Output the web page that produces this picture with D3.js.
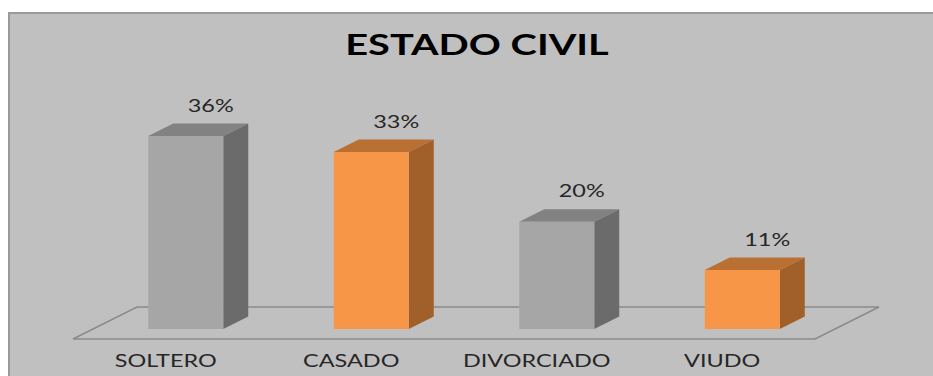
<!DOCTYPE html>
<html>
<head>
<meta charset="utf-8">
<script src="https://cdn.jsdelivr.net/npm/d3@7"></script>
<style>
  html, body { margin: 0; padding: 0; background: #ffffff; }
  svg { display: block; }
</style>
</head>
<body>
<svg id="chart" width="933" height="376"></svg>
<script>
// ---- data ----
const title = "ESTADO CIVIL";
const categories = ["SOLTERO", "CASADO", "DIVORCIADO", "VIUDO"];
const values = [36, 33, 20, 11];
const valueLabels = ["36%", "33%", "20%", "11%"];
const seriesColors = ["gray", "orange", "gray", "orange"];

// ---- styles ----
const palette = {
  gray:   { front: "#a6a6a6", side: "#6b6b6b", top: "#828282" },
  orange: { front: "#f79646", side: "#a15f29", top: "#ba6f33" }
};
const FONT = "Lato, 'Open Sans', sans-serif";
const STRETCH = 1.42;

const svg = d3.select("#chart");
const W = 933, H = 376;

// background panel
svg.append("rect").attr("x", 0).attr("y", 0).attr("width", W).attr("height", H).attr("fill", "#ffffff");
svg.append("rect").attr("x", 9).attr("y", 13).attr("width", W + 20).attr("height", H + 20)
  .attr("fill", "#c0c0c0").attr("stroke", "#9a9a9a").attr("stroke-width", 2);

// scales
const x = d3.scalePoint().domain(categories).range([93, 835]).padding(0.5);
const y = d3.scaleLinear().domain([0, 36]).range([329, 136]);
const barW = 75;
const depthX = 25, depthY = 12.5;

// floor (3D base)
const floorFrontY = 339, floorBackY = 307;
const floorLeft = 73, floorRight = 815, floorDX = 64;
svg.append("path")
  .attr("d", `M${floorLeft},${floorFrontY} L${floorRight},${floorFrontY} L${floorRight + floorDX},${floorBackY} L${floorLeft + floorDX},${floorBackY} Z`)
  .attr("fill", "none").attr("stroke", "#8a8a8a").attr("stroke-width", 1.5);

// bars
const bars = svg.append("g").selectAll("g").data(categories).join("g");
bars.each(function(c, i) {
  const g = d3.select(this);
  const col = palette[seriesColors[i]];
  const x0 = x(c) - barW / 2, x1 = x(c) + barW / 2;
  const yt = y(values[i]), yb = y(0);
  // side face
  g.append("path")
    .attr("d", `M${x1},${yt} L${x1 + depthX},${yt - depthY} L${x1 + depthX},${yb - depthY} L${x1},${yb} Z`)
    .attr("fill", col.side);
  // top face
  g.append("path")
    .attr("d", `M${x0},${yt} L${x0 + depthX},${yt - depthY} L${x1 + depthX},${yt - depthY} L${x1},${yt} Z`)
    .attr("fill", col.top);
  // front face
  g.append("rect").attr("x", x0).attr("y", yt).attr("width", barW).attr("height", yb - yt)
    .attr("fill", col.front);
});

function stretchText(sel) {
  sel.each(function() {
    const len = this.getComputedTextLength();
    d3.select(this).attr("textLength", len * STRETCH).attr("lengthAdjust", "spacingAndGlyphs");
  });
}

// value labels
svg.append("g").selectAll("text").data(categories).join("text")
  .attr("x", c => x(c) + depthX)
  .attr("y", (c, i) => y(values[i]) - depthY - 12)
  .attr("text-anchor", "middle")
  .attr("font-family", FONT).attr("font-size", 16.5).attr("fill", "#262626")
  .text((c, i) => valueLabels[i])
  .call(stretchText);

// category labels
svg.append("g").selectAll("text").data(categories).join("text")
  .attr("x", c => x(c) - 20)
  .attr("y", 367)
  .attr("text-anchor", "middle")
  .attr("font-family", FONT).attr("font-size", 16.5).attr("fill", "#262626")
  .text(c => c)
  .call(stretchText);

// title
svg.append("text")
  .attr("x", 477).attr("y", 55)
  .attr("text-anchor", "middle")
  .attr("font-family", FONT).attr("font-weight", "bold").attr("font-size", 28).attr("fill", "#000000")
  .text(title)
  .call(stretchText);
</script>
</body>
</html>
